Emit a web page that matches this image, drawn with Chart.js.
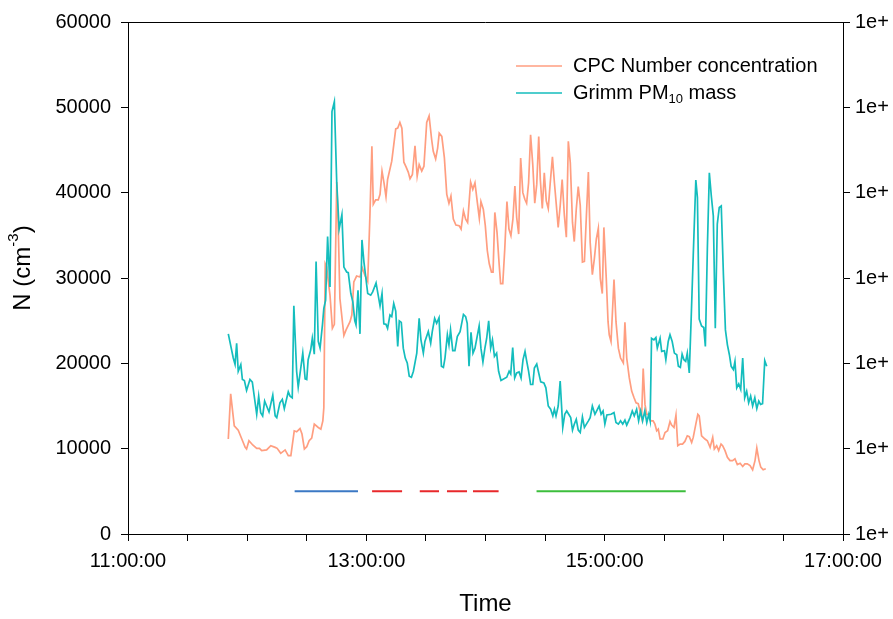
<!DOCTYPE html>
<html>
<head>
<meta charset="utf-8">
<script src="https://cdn.jsdelivr.net/npm/chart.js@4.4.1/dist/chart.umd.min.js"></script>
<style>
  html, body { margin: 0; padding: 0; background: #fff; }
  #chart { display: block; }
</style>
</head>
<body>
<canvas id="chart" width="893" height="619"></canvas>
<script>
// times are minutes after midnight
var cpcTime = [710.5, 711.7, 713.5, 715.5, 717.3, 719.0, 719.7, 720.9, 722.8, 724.8, 726.2, 727.3, 729.8, 731.9, 734.1, 735.1, 736.9, 739.1, 740.7, 742.0,
     743.7, 744.9, 746.6, 747.6, 748.8, 750.0, 751.2, 752.5, 753.8, 755.8, 757.1, 758.1, 758.6, 759.3, 760.0, 761.7, 762.9, 763.9, 765.1, 765.8,
     766.7, 768.7, 769.8, 771.8, 772.7, 773.7, 775.1, 776.8, 778.0, 779.3, 780.7, 781.8, 782.8, 783.5, 784.7, 786.0, 786.9, 787.9, 788.9, 789.9,
     790.7, 792.8, 794.8, 795.8, 796.9, 797.9, 798.9, 800.0, 801.1, 802.0, 803.2, 804.5, 805.6, 806.6, 807.9, 809.0, 810.4, 811.6, 812.9, 813.7,
     814.9, 815.9, 816.7, 818.0, 819.3, 820.5, 821.6, 822.6, 823.8, 825.1, 826.7, 827.7, 828.9, 830.0, 831.0, 832.5, 833.6, 834.7, 835.9, 836.9,
     837.7, 838.9, 839.9, 840.9, 841.9, 843.0, 843.8, 844.7, 845.8, 846.8, 847.6, 848.7, 849.7, 850.8, 851.8, 852.8, 853.8, 854.8, 855.7, 856.7,
     857.7, 858.8, 859.8, 860.7, 861.7, 862.7, 863.8, 864.8, 865.8, 866.8, 867.6, 868.6, 869.6, 870.6, 871.6, 872.6, 873.7, 874.7, 875.7, 876.6,
     877.6, 878.6, 879.7, 880.7, 881.7, 882.7, 883.8, 884.7, 885.7, 886.7, 887.7, 888.8, 889.8, 890.8, 891.8, 892.7, 893.8, 894.8, 895.8, 896.8,
     897.8, 898.8, 899.6, 900.8, 901.7, 902.3, 903.2, 904.7, 905.7, 906.9, 908.0, 909.4, 910.2, 911.1, 912.4, 913.6, 914.8, 915.8, 916.9, 917.8,
     918.6, 919.4, 920.3, 921.2, 922.0, 923.2, 924.4, 925.3, 926.2, 927.0, 927.9, 929.3, 930.4, 931.7, 932.9, 933.7, 934.9, 935.9, 936.8, 938.0,
     939.2, 940.4, 941.6, 942.6, 943.8, 944.6, 945.9, 946.9, 947.6, 948.8, 950.5, 951.7, 953.1, 954.4, 955.2, 956.4, 957.4, 958.6, 959.4, 960.6,
     961.8, 963.1, 964.4, 965.6, 966.8, 968.2, 969.5, 970.6, 971.8, 973.2, 974.5, 975.7, 976.6, 977.7, 978.6, 979.8, 981.1];
var cpcN = [11130, 16430, 12670, 12170, 11130, 10150, 9960, 10930, 10430, 10040, 10040, 9770, 9850, 10350, 10150, 10040, 9450, 9850, 9190, 9190,
     12090, 11980, 12360, 11710, 9960, 10230, 10930, 11240, 12870, 12480, 12290, 13260, 14800, 31660, 31280, 27990, 24100, 24570, 41240, 36510,
     27590, 23260, 23920, 24880, 25660, 29530, 30230, 30120, 31160, 30310, 29610, 37290, 45430, 38640, 39150, 39150, 39800, 42520, 41160, 39530,
     41550, 43690, 47480, 47560, 48220, 47560, 43570, 43020, 42410, 41630, 42130, 45500, 41940, 43290, 42520, 43100, 48220, 48990, 46200, 44850,
     43950, 45230, 46980, 46590, 44070, 39800, 38760, 39610, 36900, 36200, 36130, 35730, 37870, 36900, 36510, 41240, 40390, 41160, 38840, 36980,
     38950, 38060, 36130, 33220, 31660, 30700, 30700, 37680, 35350, 31860, 29340, 29340, 33410, 38950, 35730, 34960, 36900, 40780, 37090, 35150,
     44070, 40000, 39220, 38760, 41160, 46780, 43290, 38760, 40970, 46590, 41550, 38140, 42330, 39030, 38140, 41160, 44190, 41160, 38450, 35930,
     38450, 41550, 37370, 34770, 46010, 43490, 36510, 34270, 38060, 40700, 38530, 31860, 31940, 37290, 42410, 34190, 30390, 32250, 34570, 35810,
     29920, 28180, 35930, 30000, 24880, 23340, 22560, 29810, 24880, 21780, 20620, 20040, 24800, 20620, 18290, 16740, 15970, 15380, 15270, 14420,
     13640, 19380, 15190, 14030, 14030, 13260, 13260, 12870, 12090, 12290, 11130, 11130, 11900, 12090, 13170, 12760, 12480, 13920, 10350, 10540,
     10540, 10850, 11510, 11400, 10730, 11320, 12870, 14030, 13840, 11510, 11130, 10930, 10150, 11320, 9960, 10350, 9770, 10540, 10350, 9770,
     8990, 8600, 8600, 8800, 8140, 8290, 7910, 8220, 8220, 8020, 7520, 8600, 10080, 8600, 7830, 7520, 7640];

var grimmTime = [710.5, 713.0, 713.9, 714.7, 715.5, 716.8, 717.6, 718.6, 719.7, 721.4, 722.6, 724.8, 725.8, 726.8, 727.8, 728.8, 731.0, 732.9, 734.1, 734.9,
     736.5, 737.7, 738.7, 740.7, 741.6, 742.7, 743.5, 744.9, 745.7, 748.0, 749.2, 750.0, 750.7, 752.0, 752.8, 753.8, 754.7, 755.8, 756.7, 757.9,
     758.6, 759.5, 760.5, 761.7, 762.7, 763.9, 765.1, 766.3, 767.7, 768.7, 770.1, 770.9, 772.2, 773.2, 774.2, 774.8, 775.8, 776.8, 777.8, 778.8,
     780.7, 782.2, 783.2, 784.9, 786.9, 787.9, 788.8, 789.9, 790.7, 791.9, 792.8, 793.8, 794.8, 795.8, 796.6, 797.6, 798.6, 799.6, 800.6, 801.6,
     802.7, 803.7, 805.4, 806.6, 807.5, 808.7, 809.5, 811.2, 812.4, 813.2, 814.4, 815.4, 816.6, 817.8, 818.8, 819.6, 820.8, 821.6, 822.4, 823.5,
     824.6, 825.8, 827.2, 828.9, 830.0, 830.8, 831.7, 832.7, 833.7, 834.7, 836.8, 837.7, 838.7, 839.7, 840.6, 841.6, 842.6, 843.5, 844.5, 845.6,
     846.6, 847.8, 850.7, 851.9, 852.7, 853.7, 854.7, 855.7, 856.9, 857.9, 858.9, 859.9, 860.7, 861.7, 862.7, 863.8, 864.6, 865.8, 866.6, 867.8,
     869.4, 870.4, 871.6, 872.8, 873.9, 874.7, 875.5, 876.6, 877.6, 878.9, 879.9, 880.9, 881.9, 882.9, 883.8, 884.7, 885.7, 886.7, 887.7, 888.8,
     889.8, 890.8, 891.8, 892.7, 893.8, 895.1, 897.2, 898.2, 899.2, 900.1, 901.1, 903.2, 904.7, 905.7, 906.9, 908.0, 909.1, 910.2, 911.1, 912.8,
     913.9, 914.9, 916.1, 917.1, 918.1, 919.1, 920.2, 921.2, 922.2, 922.9, 923.6, 924.8, 925.8, 926.5, 927.9, 928.7, 930.1, 930.8, 932.0, 932.9,
     934.0, 935.1, 936.3, 937.1, 938.1, 939.0, 939.9, 940.8, 941.6, 942.6, 943.5, 944.6, 945.9, 946.7, 947.6, 948.8, 949.9, 950.7, 951.7, 952.7,
     953.7, 954.7, 955.7, 956.7, 957.7, 958.7, 959.8, 960.8, 961.8, 962.8, 963.7, 964.8, 965.6, 966.5, 967.5, 968.5, 969.5, 970.5, 971.5, 972.5,
     973.5, 974.5, 975.6, 976.6, 977.6, 978.5, 979.5, 980.6, 981.6];
var grimmMass = [23450, 20620, 19880, 22360, 19070, 19850, 18100, 17990, 16820, 18100, 17790, 14030, 16160, 14220, 13840, 15580, 14300, 16280, 13840, 13640,
     15380, 15780, 14690, 16660, 16160, 15970, 26740, 19070, 17210, 21200, 18180, 18100, 20430, 21590, 22940, 21080, 31940, 22560, 21780, 24500,
     26430, 27410, 34850, 28950, 49500, 50660, 41160, 35730, 37410, 31280, 30700, 30620, 28180, 27210, 24970, 24500, 28570, 23450, 34460, 31860,
     28180, 27990, 28370, 29420, 26740, 28180, 24620, 24570, 24100, 25660, 25470, 27010, 26130, 21980, 24970, 24800, 21780, 20620, 20040, 18490,
     18370, 19070, 21200, 25270, 22750, 21200, 22560, 23720, 22360, 23720, 25270, 24690, 25350, 19650, 19530, 20620, 23340, 22170, 23920, 21480,
     21480, 23140, 23720, 25730, 25470, 24690, 19650, 23640, 21200, 21780, 24380, 21780, 20150, 21780, 22940, 24970, 21780, 22750, 20810, 21200,
     19070, 17990, 18370, 19070, 18760, 21860, 18290, 18870, 18990, 18290, 20430, 21400, 20310, 19070, 17520, 17520, 19450, 19920, 19070, 17830,
     17710, 17130, 15000, 14620, 13840, 14620, 13840, 15000, 17910, 12480, 14030, 14420, 14030, 13640, 12170, 12870, 13450, 12170, 11900, 13720,
     12480, 12870, 13260, 13640, 15000, 14030, 15000, 14030, 14420, 12870, 13950, 14030, 14220, 13060, 12870, 13260, 12870, 13340, 12760, 13640,
     14420, 13840, 14620, 13260, 14420, 13260, 14420, 13060, 14030, 13260, 22940, 22750, 23020, 21780, 22940, 21400, 21480, 20430, 22560, 23340,
     22560, 21200, 21010, 19650, 19530, 21080, 20430, 20230, 21200, 18870, 24880, 32640, 41480, 39420, 25190, 24380, 24190, 21980, 33410, 42330,
     39610, 37290, 24100, 36310, 38260, 38450, 30310, 23920, 22170, 21010, 19650, 19270, 20230, 17130, 17590, 16940, 20620, 15970, 16740, 15380,
     16160, 15000, 15970, 14690, 15580, 15190, 15270, 20310, 19650];

// sampling periods marked at N = 5000
var markLevel = 5000;
var blueStart = [743.9], blueEnd = [775.8];
var redStart = [782.9, 806.9, 820.6, 833.7], redEnd = [798.0, 816.6, 830.7, 846.6];
var greenStart = [865.7], greenEnd = [940.8];

var yTicks = [0, 10000, 20000, 30000, 40000, 50000, 60000];
var xMin = 660, xMax = 1020;

var FONT = '"Liberation Sans", Arial, sans-serif';

function pairs(times, vals) {
     return times.map(function (t, i) { return { x: t, y: vals[i] }; });
}
function spans(starts, ends) {
     var pts = [];
     for (var i = 0; i < starts.length; i++) {
          pts.push({ x: starts[i], y: markLevel }, { x: ends[i], y: markLevel }, { x: ends[i], y: null });
     }
     return pts;
}
function clock(v) {
     var h = Math.floor(v / 60), m = v % 60;
     return h + ':' + (m < 10 ? '0' : '') + m + ':00';
}

var orange = '#FF9E80', teal = '#14BDBD';

// frame top line, y title with superscript and legend with subscript
var overlay = {
     id: 'overlay',
     afterDraw: function (chart) {
          var ctx = chart.ctx, a = chart.chartArea;
          ctx.save();
          ctx.strokeStyle = '#000';
          ctx.lineWidth = 1;
          ctx.beginPath();
          ctx.moveTo(a.left, Math.round(a.top) + 0.5);
          ctx.lineTo(a.right, Math.round(a.top) + 0.5);
          ctx.stroke();

          // y title
          ctx.save();
          ctx.translate(23, 268);
          ctx.rotate(-Math.PI / 2);
          ctx.fillStyle = '#000';
          ctx.textBaseline = 'middle';
          var big = '24px ' + FONT, small = '15px ' + FONT;
          ctx.font = big; var w1 = ctx.measureText('N (cm').width, w3 = ctx.measureText(')').width;
          ctx.font = small; var w2 = ctx.measureText('-3').width;
          var x0 = -(w1 + w2 + w3) / 2;
          ctx.font = big; ctx.fillText('N (cm', x0, 0);
          ctx.font = small; ctx.fillText('-3', x0 + w1, -9);
          ctx.font = big; ctx.fillText(')', x0 + w1 + w2, 0);
          ctx.restore();

          // legend
          var rows = [{ c: orange, y: 66 }, { c: teal, y: 93 }];
          rows.forEach(function (r) {
               ctx.strokeStyle = r.c;
               ctx.lineWidth = 1.7;
               ctx.beginPath();
               ctx.moveTo(516, r.y);
               ctx.lineTo(562, r.y);
               ctx.stroke();
          });
          ctx.fillStyle = '#000';
          ctx.textBaseline = 'middle';
          ctx.font = '20px ' + FONT;
          ctx.fillText('CPC Number concentration', 573, 66);
          ctx.fillText('Grimm PM', 573, 93);
          var wg = ctx.measureText('Grimm PM').width;
          ctx.font = '13px ' + FONT;
          ctx.fillText('10', 573 + wg, 99);
          var ws = ctx.measureText('10').width;
          ctx.font = '20px ' + FONT;
          ctx.fillText(' mass', 573 + wg + ws, 93);
          ctx.restore();
     }
};

var tickFont = { family: FONT, size: 20 };

window.pmChart = new Chart(document.getElementById('chart').getContext('2d'), {
     type: 'line',
     data: {
          datasets: [
               { data: pairs(grimmTime, grimmMass), borderColor: teal, borderWidth: 1.7, yAxisID: 'y2' },
               { data: pairs(cpcTime, cpcN), borderColor: orange, borderWidth: 1.7, yAxisID: 'y' },
               { data: spans(blueStart, blueEnd), borderColor: '#3B78C4', borderWidth: 2, yAxisID: 'y' },
               { data: spans(redStart, redEnd), borderColor: '#E8282B', borderWidth: 2, yAxisID: 'y' },
               { data: spans(greenStart, greenEnd), borderColor: '#3CBE3C', borderWidth: 2, yAxisID: 'y' }
          ]
     },
     options: {
          responsive: false,
          animation: false,
          devicePixelRatio: 1,
          spanGaps: false,
          elements: { point: { radius: 0 }, line: { tension: 0, fill: false } },
          layout: { padding: { top: 19, left: 0, right: 0, bottom: 0 } },
          plugins: { legend: { display: false }, tooltip: { enabled: false } },
          scales: {
               x: {
                    type: 'linear',
                    min: xMin,
                    max: xMax,
                    afterFit: function (s) { s.height = 85; },
                    border: { display: true, color: '#000', width: 1 },
                    grid: { drawOnChartArea: false, color: '#000', tickLength: 7 },
                    ticks: {
                         stepSize: 30,
                         autoSkip: false,
                         maxRotation: 0,
                         padding: 8,
                         color: '#000',
                         font: tickFont,
                         callback: function (v) { return (v - xMin) % 120 === 0 ? clock(v) : ''; }
                    },
                    title: { display: true, text: 'Time', color: '#000', font: { family: FONT, size: 24 }, padding: { top: 0, bottom: 0 } }
               },
               y: {
                    position: 'left',
                    min: 0,
                    max: 60000,
                    afterFit: function (s) { s.width = 128; },
                    afterBuildTicks: function (s) { s.ticks = yTicks.map(function (v) { return { value: v }; }); },
                    border: { display: true, color: '#000', width: 1 },
                    grid: { drawOnChartArea: false, color: '#000', tickLength: 7 },
                    ticks: { padding: 10, color: '#000', font: tickFont, callback: function (v) { return String(v); } }
               },
               y2: {
                    position: 'right',
                    min: 0,
                    max: 60000,
                    afterFit: function (s) { s.width = 50; },
                    afterBuildTicks: function (s) { s.ticks = yTicks.map(function (v) { return { value: v }; }); },
                    border: { display: true, color: '#000', width: 1 },
                    grid: { drawOnChartArea: false, color: '#000', tickLength: 7 },
                    ticks: { padding: 5, color: '#000', font: tickFont, callback: function () { return '1e+'; } }
               }
          }
     },
     plugins: [overlay]
});
</script>
</body>
</html>
